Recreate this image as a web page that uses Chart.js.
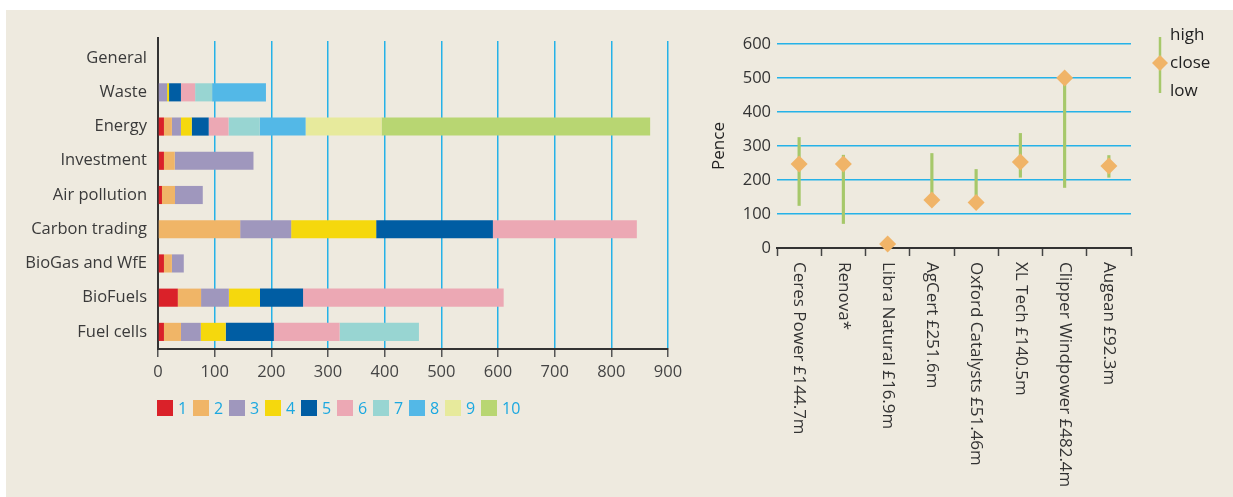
<!DOCTYPE html>
<html>
<head>
<meta charset="utf-8">
<script src="https://cdn.jsdelivr.net/npm/chart.js@4.4.1/dist/chart.umd.min.js"></script>
<style>
html,body{margin:0;padding:0;background:#ffffff;width:1233px;height:497px;overflow:hidden;}
#bg{position:absolute;left:6px;top:10px;width:1227px;height:487px;background:#EEEADF;}
canvas{position:absolute;top:0;}
#c1{left:0;}
#c2{left:690px;}
</style>
</head>
<body>
<div id="bg"></div>
<canvas id="c1" width="690" height="497"></canvas>
<canvas id="c2" width="543" height="497"></canvas>
<script>
// ---------- Left chart data ----------
const categories = ['General','Waste','Energy','Investment','Air pollution','Carbon trading','BioGas and WfE','BioFuels','Fuel cells'];
const series1  = [0, 0,   10.5, 10.5, 7,  0,   10.5, 35,  10.5];
const series2  = [0, 0,   14,   19,   23, 145, 14,   41,  30];
const series3  = [0, 16,  16,   139,  49, 90,  21,   49,  35];
const series4  = [0, 3.5, 19,   0,    0,  150, 0,    55,  44];
const series5  = [0, 21,  30,   0,    0,  206, 0,    76,  85];
const series6  = [0, 25,  35,   0,    0,  254, 0,    354, 116];
const series7  = [0, 30,  55,   0,    0,  0,   0,    0,   140];
const series8  = [0, 95,  81,   0,    0,  0,   0,    0,   0];
const series9  = [0, 0,   134,  0,    0,  0,   0,    0,   0];
const series10 = [0, 0,   474,  0,    0,  0,   0,    0,   0];
const seriesNames = ['1','2','3','4','5','6','7','8','9','10'];
const barTicks = [0,100,200,300,400,500,600,700,800,900];

// ---------- Right chart data ----------
const companies = ['Ceres Power £144.7m','Renova*','Libra Natural £16.9m','AgCert £251.6m','Oxford Catalysts £51.46m','XL Tech £140.5m','Clipper Windpower £482.4m','Augean £92.3m'];
const highs  = [325, 273, 12, 278, 231, 337, 500, 272];
const lows   = [125, 72,  12, 141, 134, 208, 178, 208];
const closes = [247, 247, 12, 141, 134, 253, 500, 241];
const penceTicks = [0,100,200,300,400,500,600];
const legendWords = ['high','close','low'];

// ---------- styles ----------
const seriesColors = ['#DA2129','#F0B567','#9F97BD','#F5D80D','#005DA3','#ECA8B4','#98D5D2','#53B8E7','#E7EA9C','#B8D672'];
const FONT = '"Open Sans", sans-serif';
const CYAN = '#25B2E8';
Chart.defaults.font.family = FONT;
Chart.defaults.font.size = 16;

const allSeries = [series1,series2,series3,series4,series5,series6,series7,series8,series9,series10];

const leftLegend = {
  id: 'leftLegend',
  afterDraw(chart) {
    const ctx = chart.ctx;
    ctx.save();
    // small extension of the category axis line above the plot
    const y0 = chart.chartArea.top;
    ctx.strokeStyle = '#333';
    ctx.lineWidth = 2;
    ctx.beginPath();
    ctx.moveTo(chart.chartArea.left, y0);
    ctx.lineTo(chart.chartArea.left, y0 - 4);
    ctx.stroke();
    ctx.font = '16px ' + FONT;
    ctx.textBaseline = 'middle';
    ctx.textAlign = 'left';
    chart.data.datasets.forEach((ds, i) => {
      const x = 157 + i * 36;
      ctx.fillStyle = ds.backgroundColor;
      ctx.fillRect(x, 400, 16, 16);
      ctx.fillStyle = '#1BA8E0';
      ctx.fillText(ds.label, x + 21, 409);
    });
    ctx.restore();
  }
};

new Chart(document.getElementById('c1'), {
  type: 'bar',
  data: {
    labels: categories,
    datasets: allSeries.map((d, i) => ({
      label: seriesNames[i],
      data: d,
      backgroundColor: seriesColors[i],
      borderWidth: 0,
      barPercentage: 0.53,
      categoryPercentage: 1
    }))
  },
  options: {
    indexAxis: 'y',
    responsive: false,
    animation: false,
    layout: { padding: { left: 0, right: 22, top: 41, bottom: 116 } },
    plugins: { legend: { display: false }, tooltip: { enabled: false } },
    scales: {
      x: {
        stacked: true,
        min: 0, max: 900,
        afterBuildTicks(scale) { scale.ticks = barTicks.map(v => ({ value: v })); },
        afterFit(scale) { scale.height = 32; },
        ticks: { color: '#444', padding: 5, font: { size: 16.5 } },
        grid: {
          color: ctx => (ctx.tick && ctx.tick.value === 0) ? 'rgba(0,0,0,0)' : CYAN,
          lineWidth: 1.5,
          tickColor: '#555',
          tickLength: 8,
          tickWidth: 1.5
        },
        border: { color: '#333', width: 2 }
      },
      y: {
        stacked: true,
        afterFit(scale) { scale.width = 158; },
        ticks: { color: '#3a3a3a', padding: 11, font: { size: 16.5 } },
        grid: { drawOnChartArea: false, drawTicks: false },
        border: { color: '#333', width: 2 }
      }
    }
  },
  plugins: [leftLegend]
});

const rightExtras = {
  id: 'rightExtras',
  afterDraw(chart) {
    const ctx = chart.ctx;
    const xs = chart.scales.x;
    ctx.save();
    ctx.font = '17px ' + FONT;
    ctx.fillStyle = '#333';
    ctx.textAlign = 'left';
    ctx.textBaseline = 'middle';
    chart.data.labels.forEach((t, i) => {
      const x = xs.getPixelForValue(i);
      ctx.save();
      ctx.translate(x, 262);
      ctx.rotate(Math.PI / 2);
      ctx.fillText(t, 0, 0);
      ctx.restore();
    });
    // legend
    const lx = 470;
    ctx.strokeStyle = chart.data.datasets[1].backgroundColor;
    ctx.lineWidth = 2.5;
    ctx.beginPath();
    ctx.moveTo(lx, 37);
    ctx.lineTo(lx, 93);
    ctx.stroke();
    ctx.fillStyle = chart.data.datasets[0].backgroundColor;
    ctx.beginPath();
    ctx.moveTo(lx, 55); ctx.lineTo(lx + 8, 63); ctx.lineTo(lx, 71); ctx.lineTo(lx - 8, 63);
    ctx.closePath();
    ctx.fill();
    ctx.font = '17px ' + FONT;
    ctx.fillStyle = '#222';
    legendWords.forEach((w, i) => ctx.fillText(w, lx + 10, 35 + i * 28));
    ctx.restore();
  }
};

new Chart(document.getElementById('c2'), {
  type: 'bar',
  data: {
    labels: companies,
    datasets: [
      {
        type: 'line',
        label: 'close',
        data: closes,
        showLine: false,
        pointStyle: 'rectRot',
        pointRadius: 8.5,
        pointBorderWidth: 0,
        backgroundColor: '#F0B468',
        borderColor: '#F0B468',
        clip: false,
        order: 0
      },
      {
        type: 'bar',
        label: 'high-low',
        data: highs.map((h, i) => [lows[i], h]),
        backgroundColor: '#A6C86A',
        barThickness: 2.5,
        borderWidth: 0,
        order: 1
      }
    ]
  },
  options: {
    responsive: false,
    animation: false,
    layout: { padding: { left: 0, right: 102, top: 44, bottom: 239 } },
    plugins: { legend: { display: false }, tooltip: { enabled: false } },
    scales: {
      x: {
        offset: true,
        afterFit(scale) { scale.height = 10; },
        ticks: { display: false },
        grid: { offset: true, drawOnChartArea: false, drawTicks: true, tickLength: 8, tickColor: '#444', tickWidth: 1.5 },
        border: { color: '#333', width: 2 }
      },
      y: {
        min: 0, max: 600,
        afterBuildTicks(scale) { scale.ticks = penceTicks.map(v => ({ value: v })); },
        afterFit(scale) { scale.width = 87; },
        ticks: { color: '#333', padding: 6, font: { size: 16.5 } },
        grid: {
          color: ctx => (ctx.tick && ctx.tick.value === 0) ? 'rgba(0,0,0,0)' : CYAN,
          lineWidth: 1.5,
          drawTicks: false
        },
        border: { display: false },
        title: { display: true, text: 'Pence', color: '#222', font: { size: 17 }, padding: { top: 19, bottom: 0 } }
      }
    }
  },
  plugins: [rightExtras]
});
</script>
</body>
</html>
